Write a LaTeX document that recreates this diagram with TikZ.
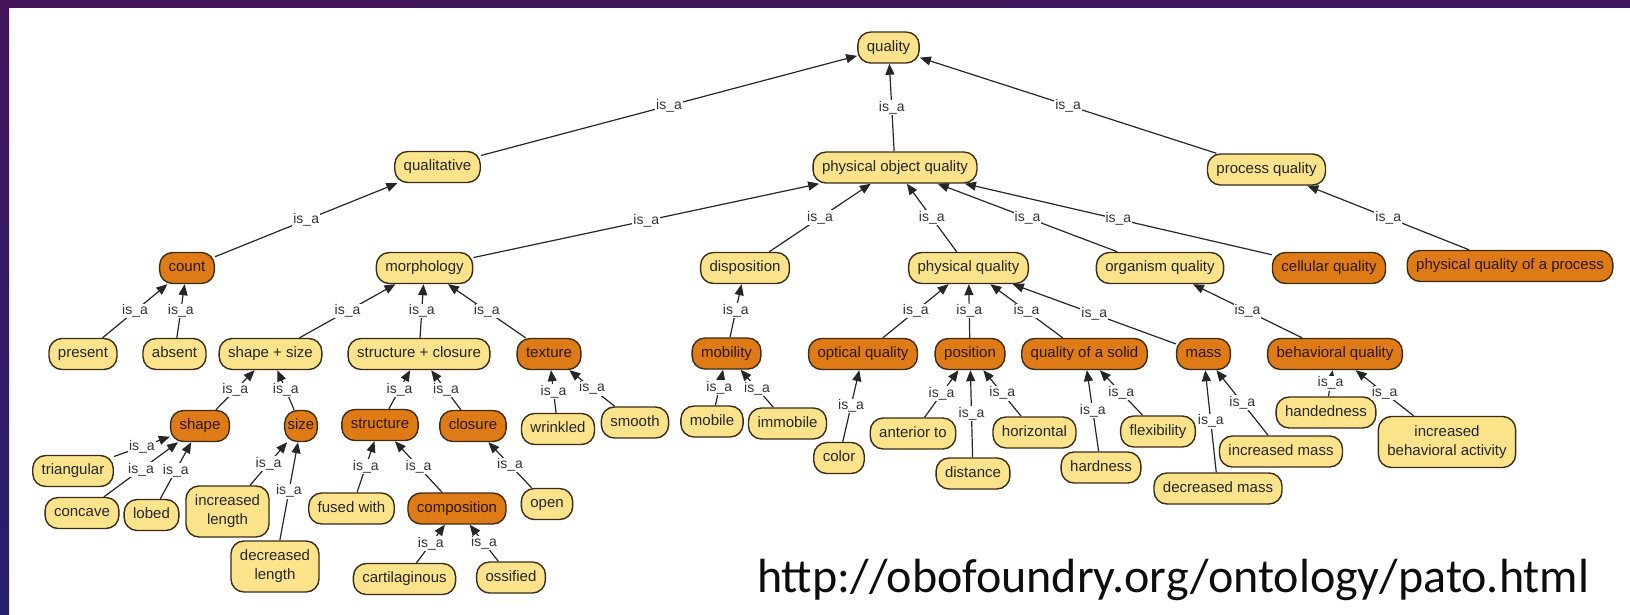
\documentclass[tikz,border=0pt]{standalone}
\usepackage{fontspec}
\setmainfont{Liberation Sans}
\newfontfamily\urlfont{Carlito}
\usetikzlibrary{arrows.meta}
\definecolor{termyel}{HTML}{FBE38C}
\definecolor{termorg}{HTML}{DF7B17}
\definecolor{termline}{HTML}{3A2C16}
\definecolor{termtxt}{HTML}{2B1603}
\definecolor{slidetop}{HTML}{43145A}
\definecolor{slidebot}{HTML}{251F6E}
\tikzstyle{term}=[rectangle, rounded corners=13pt, draw=termline, line width=1.4pt, inner xsep=9pt, inner ysep=0pt, minimum height=31pt, font=\fontsize{15}{19}\selectfont, text=black!85]
\tikzstyle{lite}=[term, fill=termyel, text height=11pt, text depth=3.5pt]
\tikzstyle{dark}=[term, fill=termorg, text=termtxt, text height=11pt, text depth=3.5pt]
\tikzstyle{lite2}=[term, fill=termyel, align=center, minimum height=51pt]
\tikzstyle{isa}=[-{Triangle[length=11pt,width=9pt]}, line width=1.2pt, draw=black!85]
\tikzstyle{annot}=[fill=white, inner sep=1pt, font=\fontsize{14}{14}\selectfont, text=black!80]
\newcommand{\isaedge}[2]{\draw[isa] (#1) -- node[annot]{is\_a} (#2);}

\begin{document}
\begin{tikzpicture}[x=1pt, y=-1pt]
	\useasboundingbox (0,0) rectangle (1630,614);
	% slide frame
	\fill[top color=slidetop, bottom color=slidebot] (0,0) rectangle (9,614);
	\fill[left color=slidetop, right color=slidetop!80!slidebot] (0,0) rectangle (1630,7);

	% top levels
	\node[lite](quality) at (888.5,47.5){quality};
	\node[lite](qualitative) at (437.5,167){qualitative};
	\node[lite](poq) at (895,167.5){physical object quality};
	\node[lite](procq) at (1266.5,169.5){process quality};

	\node[dark](count) at (187,268){count};
	\node[lite](morph) at (424.5,268){morphology};
	\node[lite](disp) at (745,268){disposition};
	\node[lite](physq) at (968.5,268){physical quality};
	\node[lite](orgq) at (1160,268){organism quality};
	\node[dark](cellq) at (1329,268){cellular quality};
	\node[dark](pqproc) at (1510,266){physical quality of a process};

	% third row
	\node[lite](present) at (83,354){present};
	\node[lite](absent) at (174.5,354){absent};
	\node[lite](shsz) at (270.5,354){shape + size};
	\node[lite](stcl) at (419,354){structure + closure};
	\node[dark](texture) at (549,354){texture};
	\node[dark](mobility) at (726.5,353.5){mobility};
	\node[dark](optical) at (863,354){optical quality};
	\node[dark](position) at (970,354){position};
	\node[dark](solid) at (1084.5,354){quality of a solid};
	\node[dark](mass) at (1203.5,354){mass};
	\node[dark](behav) at (1335,354){behavioral quality};

	% fourth row
	\node[dark](shape) at (200,426){shape};
	\node[dark, inner xsep=3pt](size) at (301,426){size};
	\node[dark](structure) at (380,425){structure};
	\node[dark](closure) at (473,426){closure};
	\node[lite](wrinkled) at (558,429){wrinkled};
	\node[lite](smooth) at (635,422.5){smooth};
	\node[lite](mobile) at (712,421.5){mobile};
	\node[lite](immobile) at (787.5,423.5){immobile};
	\node[lite](color) at (839,458){color};
	\node[lite](anterior) at (913,433.5){anterior to};
	\node[lite](distance) at (973,473.5){distance};
	\node[lite](horizontal) at (1034.5,432.5){horizontal};
	\node[lite](hardness) at (1101,467.5){hardness};
	\node[lite](flexibility) at (1158,431.5){flexibility};
	\node[lite](incmass) at (1281,451.5){increased mass};
	\node[lite](decmass) at (1218,488.5){decreased mass};
	\node[lite](handed) at (1326,412.5){handedness};
	\node[lite2](incbehav) at (1447,442){increased\\behavioral activity};

	% bottom rows
	\node[lite](triangular) at (73,471){triangular};
	\node[lite](concave) at (82,513){concave};
	\node[lite](lobed) at (151.5,515){lobed};
	\node[lite2](inclen) at (227.5,511.5){increased\\length};
	\node[lite2](declen) at (275,566.5){decreased\\length};
	\node[lite](fused) at (351.5,508.5){fused with};
	\node[dark](composition) at (457,508.5){composition};
	\node[lite](open) at (547,504){open};
	\node[lite](cartil) at (404.5,579){cartilaginous};
	\node[lite](ossified) at (511,577.5){ossified};

	\isaedge{qualitative}{quality}
	\isaedge{poq}{quality}
	\isaedge{procq}{quality}
	\isaedge{count}{qualitative}
	\isaedge{morph}{poq}
	\isaedge{disp}{poq}
	\isaedge{physq}{poq}
	\isaedge{orgq}{poq}
	\isaedge{cellq}{poq}
	\isaedge{pqproc}{procq}
	\isaedge{present}{count}
	\isaedge{absent}{count}
	\isaedge{shsz}{morph}
	\isaedge{stcl}{morph}
	\isaedge{texture}{morph}
	\isaedge{mobility}{disp}
	\isaedge{optical}{physq}
	\isaedge{position}{physq}
	\isaedge{solid}{physq}
	\isaedge{mass}{physq}
	\isaedge{behav}{orgq}
	\isaedge{shape}{shsz}
	\isaedge{size}{shsz}
	\isaedge{structure}{stcl}
	\isaedge{closure}{stcl}
	\isaedge{wrinkled}{texture}
	\isaedge{smooth}{texture}
	\isaedge{mobile}{mobility}
	\isaedge{immobile}{mobility}
	\isaedge{color}{optical}
	\isaedge{anterior}{position}
	\isaedge{distance}{position}
	\isaedge{horizontal}{position}
	\isaedge{hardness}{solid}
	\isaedge{flexibility}{solid}
	\isaedge{decmass}{mass}
	\isaedge{incmass}{mass}
	\isaedge{handed}{behav}
	\isaedge{incbehav}{behav}
	\isaedge{triangular}{shape}
	\isaedge{concave}{shape}
	\isaedge{lobed}{shape}
	\isaedge{inclen}{size}
	\isaedge{declen}{size}
	\isaedge{fused}{structure}
	\isaedge{composition}{structure}
	\isaedge{open}{closure}
	\isaedge{cartil}{composition}
	\isaedge{ossified}{composition}

	\node[anchor=base west, inner sep=0pt, font=\urlfont\fontsize{48}{48}\selectfont, text=black!95](url) at (757,592){http://obofoundry.org/ontology/pato.html};
\end{tikzpicture}
\end{document}
